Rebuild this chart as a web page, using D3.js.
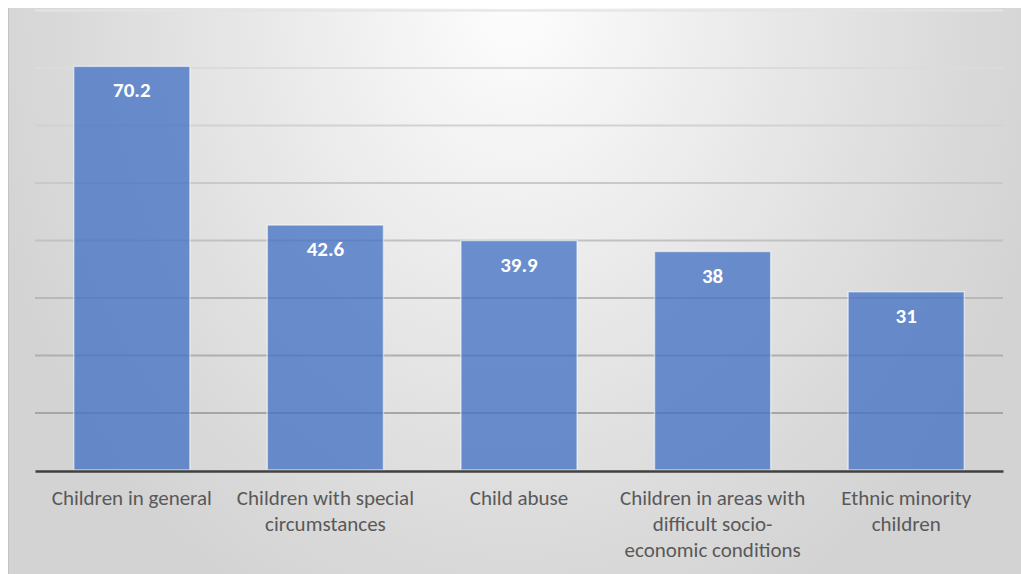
<!DOCTYPE html>
<html>
<head>
<meta charset="utf-8">
<script src="https://cdn.jsdelivr.net/npm/d3@7/dist/d3.min.js"></script>
<style>
  html, body { margin: 0; padding: 0; background: #ffffff; }
  svg { display: block; }
</style>
</head>
<body>
<svg id="chart" width="1021" height="574"></svg>
<script>
// Share of respondents by target group (%)
const categories = [
  "Children in general",
  "Children with special circumstances",
  "Child abuse",
  "Children in areas with difficult socio-economic conditions",
  "Ethnic minority children"
];
const categoryLines = [
  ["Children in general"],
  ["Children with special", "circumstances"],
  ["Child abuse"],
  ["Children in areas with", "difficult socio-", "economic conditions"],
  ["Ethnic minority", "children"]
];
const values = [70.2, 42.6, 39.9, 38, 31];
const valueLabels = ["70.2", "42.6", "39.9", "38", "31"];
const gridTicks = [10, 20, 30, 40, 50, 60, 70, 80];

const W = 1021, H = 574;
const plot = { left: 35, right: 1003, top: 10, bottom: 470 };
const fontFamily = "Carlito, Calibri, 'Open Sans', sans-serif";

const svg = d3.select("#chart");
const defs = svg.append("defs");

// Soft light-grey panel background, brightest at the top centre
const grad = defs.append("radialGradient")
  .attr("id", "panelBg")
  .attr("gradientUnits", "userSpaceOnUse")
  .attr("cx", 515).attr("cy", 0)
  .attr("r", 600)
  .attr("gradientTransform", "translate(515,0) scale(0.92,1.15) translate(-515,0)");
[[0, "#fdfdfd"], [0.12, "#f8f8f8"], [0.45, "#e9e9e9"], [0.8, "#dadada"], [1, "#d3d3d3"]]
  .forEach(([o, c]) => grad.append("stop").attr("offset", o).attr("stop-color", c));

svg.append("rect")
  .attr("x", 8).attr("y", 8)
  .attr("width", W - 8).attr("height", H - 8)
  .attr("fill", "url(#panelBg)");
svg.append("line")
  .attr("x1", 8.5).attr("x2", 8.5).attr("y1", 8).attr("y2", H)
  .attr("stroke", "#c4c4c4").attr("stroke-width", 1);

const x = d3.scaleBand()
  .domain(categories)
  .range([plot.left, plot.right])
  .paddingInner(0.4)
  .paddingOuter(0.2);

const y = d3.scaleLinear()
  .domain([0, 80])
  .range([plot.bottom, plot.top]);

// Horizontal gridlines, fading toward the top
const gridColor = d3.scaleLinear().domain([10, 80]).range(["#a6a6a6", "#e4e4e4"]);
const gridAxis = d3.axisLeft(y)
  .tickValues(gridTicks)
  .tickSize(-(plot.right - plot.left))
  .tickFormat("");
const gridG = svg.append("g")
  .attr("transform", `translate(${plot.left},0)`)
  .call(gridAxis);
gridG.select(".domain").remove();
gridG.selectAll(".tick line")
  .attr("stroke", d => gridColor(d))
  .attr("stroke-width", 2);

// Bars
svg.append("g").selectAll("rect")
  .data(values)
  .join("rect")
  .attr("x", (d, i) => x(categories[i]))
  .attr("y", d => y(d))
  .attr("width", x.bandwidth())
  .attr("height", d => y(0) - y(d))
  .attr("fill", "#4472c4")
  .attr("fill-opacity", 0.78)
  .attr("stroke", "#ffffff")
  .attr("stroke-opacity", 0.55)
  .attr("stroke-width", 1.5);

// Value labels inside the bar tops
svg.append("g").selectAll("text")
  .data(values)
  .join("text")
  .attr("x", (d, i) => x(categories[i]) + x.bandwidth() / 2)
  .attr("y", d => y(d) + 31)
  .attr("text-anchor", "middle")
  .attr("font-family", fontFamily)
  .attr("font-weight", "bold")
  .attr("font-size", 21)
  .attr("fill", "#ffffff")
  .text((d, i) => valueLabels[i]);

// Baseline axis with wrapped category labels
const xAxis = d3.axisBottom(x).tickSize(0).tickFormat("");
const axG = svg.append("g")
  .attr("transform", `translate(0,${plot.bottom + 1})`)
  .call(xAxis);
axG.select(".domain")
  .attr("stroke", "#404040")
  .attr("stroke-width", 2.5);

axG.selectAll(".tick").each(function(d, i) {
  const t = d3.select(this).append("text")
    .attr("text-anchor", "middle")
    .attr("font-family", fontFamily)
    .attr("font-size", 21)
    .attr("fill", "#595959");
  categoryLines[i].forEach((line, k) => {
    t.append("tspan")
      .attr("x", 0)
      .attr("y", 34 + k * 26)
      .text(line);
  });
});
</script>
</body>
</html>
